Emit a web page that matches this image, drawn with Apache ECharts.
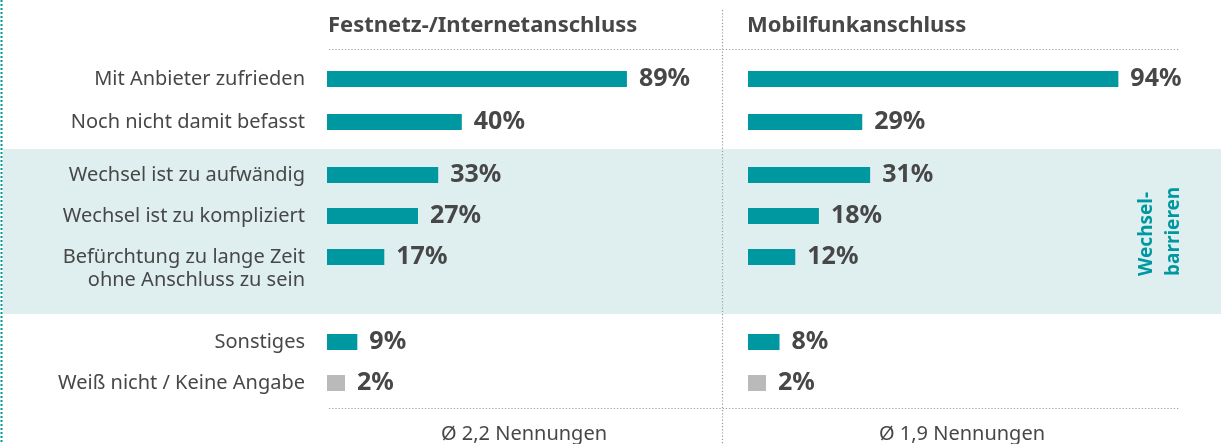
<!DOCTYPE html>
<html>
<head>
<meta charset="utf-8">
<script src="https://cdn.jsdelivr.net/npm/echarts@6/dist/echarts.min.js"></script>
<style>
  html, body { margin: 0; padding: 0; background: #fff; }
  #chart { width: 1221px; height: 444px; }
</style>
</head>
<body>
<div id="chart"></div>
<script>
// Daten
const categories = [
  'Mit Anbieter zufrieden',
  'Noch nicht damit befasst',
  'Wechsel ist zu aufwändig',
  'Wechsel ist zu kompliziert',
  'Befürchtung zu lange Zeit\nohne Anschluss zu sein',
  'Sonstiges',
  'Weiß nicht / Keine Angabe'
]
const festnetzValues = [89, 40, 33, 27, 17, 9, 2]
const mobilfunkValues = [94, 29, 31, 18, 12, 8, 2]
const groupSizes = [2, 3, 2]
const panelTitles = ['Festnetz-/Internetanschluss', 'Mobilfunkanschluss']
const footnotes = ['Ø 2,2 Nennungen', 'Ø 1,9 Nennungen']
const bandLabel = 'Wechsel-\nbarrieren'
const noAnswer = 'Weiß nicht / Keine Angabe'

const TEAL = '#0098a0'
const GREY = '#bababa'
const TEXT = '#474747'
const FONT = '"Noto Sans", sans-serif'

// layout of the two panels and the three row groups
const panels = [
  { left: 327, width: 337, values: festnetzValues, labels: true },
  { left: 748, width: 394, values: mobilfunkValues, labels: false }
]
const groupBoxes = [
  { top: 57.5, height: 86 },
  { top: 154.5, height: 123 },
  { top: 321.5, height: 82 }
]

const chart = echarts.init(document.getElementById('chart'))

const grid = []
const xAxis = []
const yAxis = []
const series = []

panels.forEach((panel, p) => {
  let start = 0
  groupSizes.forEach((size, g) => {
    const idx = grid.length
    const cats = categories.slice(start, start + size)
    const vals = panel.values.slice(start, start + size)
    start += size
    grid.push({
      left: panel.left,
      width: panel.width,
      top: groupBoxes[g].top,
      height: groupBoxes[g].height,
      outerBoundsMode: 'none'
    })
    xAxis.push({
      type: 'value',
      gridIndex: idx,
      min: 0,
      max: 100,
      show: false
    })
    yAxis.push({
      type: 'category',
      gridIndex: idx,
      inverse: true,
      data: cats,
      axisLine: { show: false },
      axisTick: { show: false },
      splitLine: { show: false },
      axisLabel: {
        show: panel.labels,
        interval: 0,
        hideOverlap: false,
        margin: 22,
        color: TEXT,
        fontFamily: FONT,
        fontSize: 20,
        lineHeight: 23,
        // first line sits on the bar, second line hangs below
        formatter: v => v.indexOf('\n') >= 0 ? '\u00a0\n' + v : v
      }
    })
    series.push({
      type: 'bar',
      xAxisIndex: idx,
      yAxisIndex: idx,
      data: vals,
      barWidth: 16,
      barMinHeight: 18,
      itemStyle: {
        color: params => params.name === noAnswer ? GREY : TEAL
      },
      label: {
        show: true,
        position: 'right',
        distance: 12,
        formatter: '{c}%',
        color: TEXT,
        fontFamily: FONT,
        fontWeight: 'bold',
        fontSize: 25
      },
      silent: true,
      animation: false
    })
  })
})

const dotted = { stroke: '#9a9a9a', lineWidth: 1.2, lineDash: [1.2, 2] }

chart.setOption({
  backgroundColor: '#fff',
  title: [
    { text: panelTitles[0], left: 323, top: 10, textStyle: { color: TEXT, fontFamily: FONT, fontSize: 22, fontWeight: 'bold' } },
    { text: panelTitles[1], left: 742, top: 10, textStyle: { color: TEXT, fontFamily: FONT, fontSize: 22, fontWeight: 'bold' } },
    { text: footnotes[0], left: 519, top: 419, textAlign: 'center', textStyle: { color: TEXT, fontFamily: FONT, fontSize: 20, fontWeight: 'normal' } },
    { text: footnotes[1], left: 957, top: 419, textAlign: 'center', textStyle: { color: TEXT, fontFamily: FONT, fontSize: 20, fontWeight: 'normal' } }
  ],
  graphic: [
    { type: 'rect', z: -10, shape: { x: 3, y: 149, width: 1218, height: 165 }, style: { fill: '#dfeff0' } },
    { type: 'line', shape: { x1: 1.5, y1: 0, x2: 1.5, y2: 444 }, style: { stroke: TEAL, lineWidth: 2, lineDash: [2, 2] } },
    { type: 'line', shape: { x1: 722.5, y1: 10, x2: 722.5, y2: 444 }, style: dotted },
    { type: 'line', shape: { x1: 329, y1: 49.5, x2: 1180, y2: 49.5 }, style: dotted },
    { type: 'line', shape: { x1: 329, y1: 408.5, x2: 1180, y2: 408.5 }, style: dotted },
    {
      type: 'text',
      x: 1160,
      y: 276,
      rotation: Math.PI / 2,
      style: {
        text: bandLabel,
        fill: TEAL,
        font: 'bold 19px "Noto Sans", sans-serif',
        lineHeight: 27,
        align: 'left',
        verticalAlign: 'middle'
      }
    }
  ],
  grid: grid,
  xAxis: xAxis,
  yAxis: yAxis,
  series: series
})
</script>
</body>
</html>
